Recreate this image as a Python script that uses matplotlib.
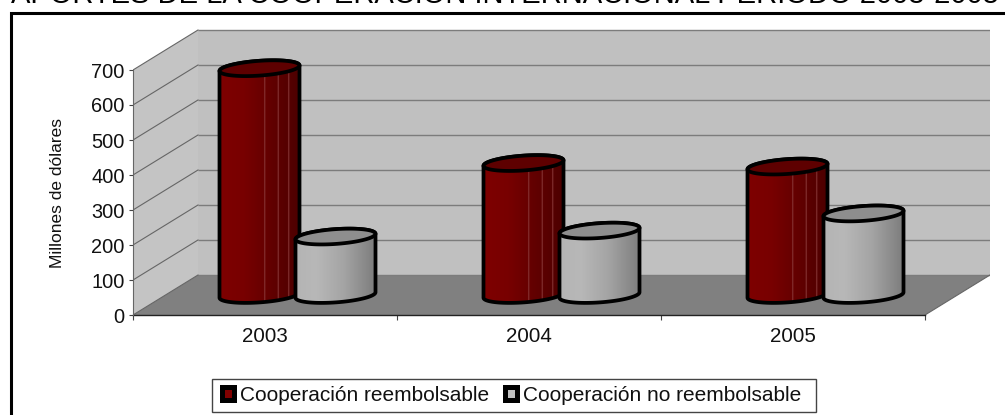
import numpy as np
import matplotlib
matplotlib.use("Agg")
import matplotlib.pyplot as plt
from matplotlib.lines import Line2D
from matplotlib.patches import Patch, Polygon, Rectangle
from matplotlib.colors import to_rgb

years = ["2003", "2004", "2005"]
reembolsable = [648, 377, 367]
no_reembolsable = [167, 184, 233]
series_names = ["Cooperación reembolsable", "Cooperación no reembolsable"]
y_ticks = [0, 100, 200, 300, 400, 500, 600, 700]
title = "APORTES DE LA COOPERACIÓN INTERNACIONAL PERÍODO 2003-2005"
y_label = "Millones de dólares"

plt.rcParams["font.family"] = ["Liberation Sans", "DejaVu Sans"]
W, H = 1005, 415
fig = plt.figure(figsize=(W / 100, H / 100), dpi=100, facecolor="white")
PXC = 264.0          # pixels per category
PXV = 0.35           # pixels per value unit
L, B, R, T = 133, 315, 990, 29
ax = fig.add_axes([L / W, (H - B) / H, (R - L) / W, (B - T) / H])
XMAX, YMAX = (R - L) / PXC, (B - T) / PXV
DX, DY = 65 / PXC, 40 / PXV
px, py = 1 / PXC, 1 / PXV
YTOP = max(y_ticks)
n = len(years)
GRID = "#7c7c7c"

# walls and floor
ax.add_patch(Polygon([(DX, DY), (XMAX, DY), (XMAX, DY + YTOP), (DX, DY + YTOP)], fc="#c0c0c0", ec="none", zorder=1))
ax.add_patch(Polygon([(0, 0), (DX, DY), (DX, DY + YTOP), (0, YTOP)], fc="#c4c4c4", ec="none", zorder=1))
ax.add_patch(Polygon([(0, 0), (n, 0), (XMAX, DY), (DX, DY)], fc="#808080", ec="none", zorder=1))
for v in y_ticks:
    ax.plot([DX, XMAX], [DY + v, DY + v], color=GRID, lw=1.0, zorder=2, solid_capstyle="butt")
    ax.plot([0, DX], [v, DY + v], color="#666666", lw=0.8, zorder=2)
ax.plot([n, XMAX], [0, DY], color="#666666", lw=0.8, zorder=2)


def gradient(stops, streaks, streak_col):
    xs = np.linspace(0, 1, 320)
    cols = np.array([to_rgb(c) for _, c in stops])
    pos = [p for p, _ in stops]
    arr = np.stack([np.interp(xs, pos, cols[:, k]) for k in range(3)], axis=1)
    for s in streaks:
        arr[np.abs(xs - s) < 0.006] = to_rgb(streak_col)
    return arr[np.newaxis, :, :]


RED = gradient([(0, "#7e0000"), (0.3, "#780000"), (0.6, "#640000"), (1, "#4c0000")],
               [0.56, 0.73, 0.86], "#8a3a3a")
GRAY = gradient([(0, "#b4b4b4"), (0.25, "#b8b8b8"), (0.6, "#a4a4a4"), (1, "#7c7c7c")],
                [], "#ffffff")


def cylinder(cx, value, grad, top_col, z):
    a, b, s = 40 * px, 7.4 * py, 2.75 * py
    base = DY / 2
    top = base + value
    t1 = np.linspace(np.pi, 2 * np.pi, 60)
    t2 = np.linspace(0, np.pi, 60)
    low = np.column_stack([cx + a * np.cos(t1), base + b * np.sin(t1) + s * np.cos(t1)])
    upp = np.column_stack([cx + a * np.cos(t2), top + b * np.sin(t2) + s * np.cos(t2)])
    sil = Polygon(np.vstack([low, upp]), closed=True, fc="none", ec="black", lw=2.7, zorder=z + 0.2, joinstyle="round")
    clip = Polygon(np.vstack([low, upp]), closed=True, transform=ax.transData)
    im = ax.imshow(grad, extent=(cx - a, cx + a, base - 12 * py, top + 12 * py), aspect="auto",
                   interpolation="bilinear", zorder=z, origin="lower")
    im.set_clip_path(clip)
    ax.add_patch(sil)
    tf = np.linspace(0, 2 * np.pi, 120)
    ax.add_patch(Polygon(np.column_stack([cx + a * np.cos(tf), top + b * np.sin(tf) + s * np.cos(tf)]),
                         closed=True, fc=top_col, ec="black", lw=2.7, zorder=z + 0.3))


OFF = 38 * px
for i in range(n):
    c = i + 0.5 + DX / 2
    cylinder(c - OFF, reembolsable[i], RED, "#5e0000", 5 + i * 2)
    cylinder(c + OFF, no_reembolsable[i], GRAY, "#8e8e8e", 6 + i * 2)

ax.set_xlim(0, XMAX)
ax.set_ylim(0, YMAX)
for k in ("top", "right"):
    ax.spines[k].set_visible(False)
ax.spines["left"].set_bounds(0, YTOP)
ax.spines["left"].set_color("#666666")
ax.spines["left"].set_zorder(3)
ax.spines["bottom"].set_bounds(0, n)
ax.spines["bottom"].set_color("#222222")
ax.spines["bottom"].set_linewidth(1.0)
ax.set_yticks(y_ticks)
ax.tick_params(axis="y", length=3, width=0.8, color="#444444", labelsize=14.4, pad=3, labelcolor="#111111")
ax.set_xticks(np.arange(n + 1))
ax.set_xticklabels([])
ax.tick_params(axis="x", which="major", length=3.5, width=0.8, color="#444444")
ax.set_xticks(np.arange(n) + 0.5, minor=True)
ax.set_xticklabels(years, minor=True)
ax.tick_params(axis="x", which="minor", length=0, labelsize=14.8, pad=8.5, labelcolor="#111111")

fig.text(57.5 / W, 1 - 193 / H, y_label, rotation=90, ha="center", va="center", fontsize=12.5, color="#111111")
fig.text(505 / W, 1 - 2.8 / H, title, ha="center", va="baseline", fontsize=21, color="black")

# chart frame, running off the right and bottom edges
fig.add_artist(Line2D([10.7 / W, 10.7 / W, 1], [0, 1 - 13.3 / H, 1 - 13.3 / H], transform=fig.transFigure,
                      color="black", lw=2.2, solid_joinstyle="miter"))

# legend frame and entries
fig.add_artist(Rectangle((212 / W, 1 - 411.7 / H), 604 / W, 32.7 / H, transform=fig.transFigure,
                         fc="white", ec="#444444", lw=1.0))
handles = [Patch(fc="#800000", ec="black", lw=3.6, joinstyle="round"),
           Patch(fc="#c0c0c0", ec="black", lw=3.6, joinstyle="round")]
leg = fig.legend(handles, series_names, loc="center left", bbox_to_anchor=(221.5 / W, 1 - 395.3 / H), ncols=2,
                 fontsize=15, frameon=False, handlelength=0.58, handleheight=0.58, handletextpad=0.31,
                 columnspacing=0.75, borderpad=0, borderaxespad=0)
for t in leg.get_texts():
    t.set_color("#111111")

fig.savefig("out.png", dpi=100)
